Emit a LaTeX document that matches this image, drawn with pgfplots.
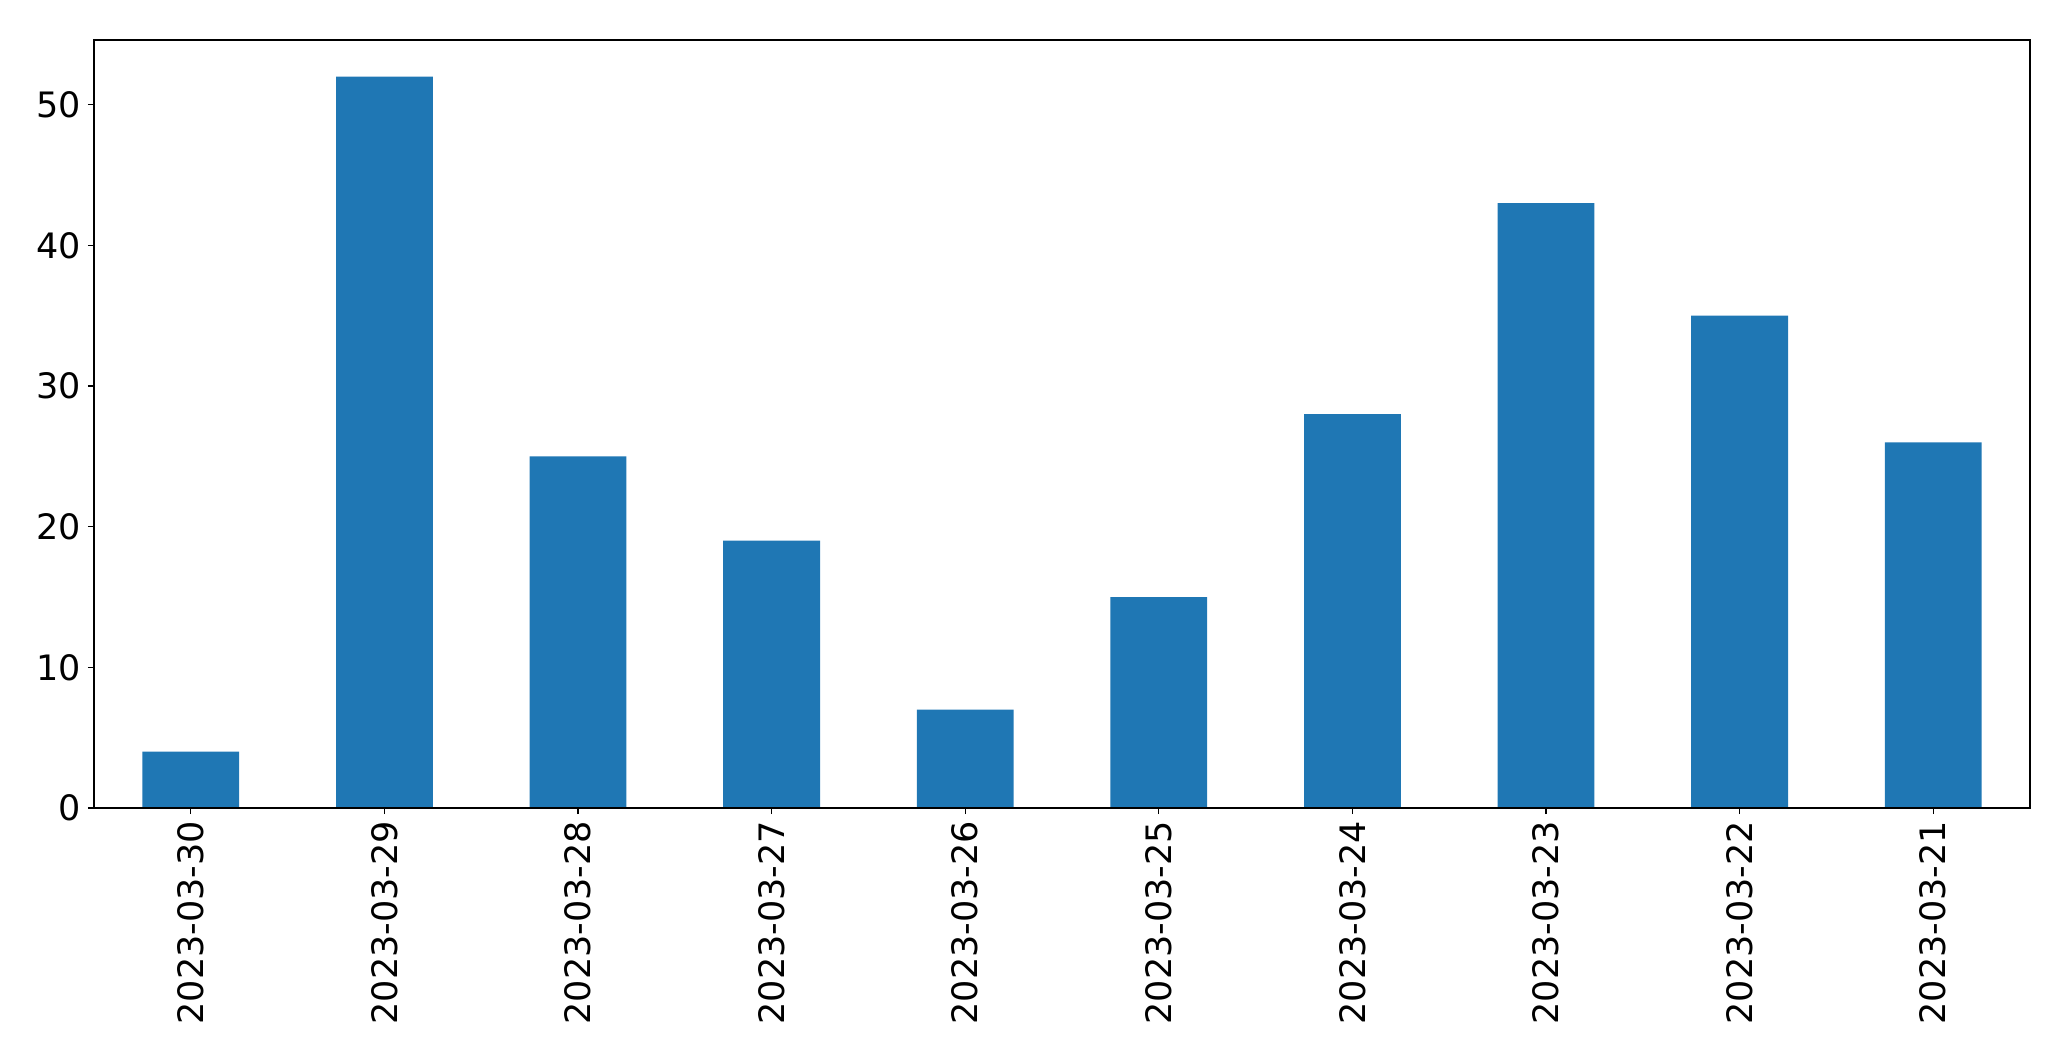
\documentclass[border=0pt]{standalone}
\usepackage{pgfplots}
\pgfplotsset{compat=1.18}
\usepackage{fontspec}
\setmainfont{DejaVu Sans}
\definecolor{mplblue}{HTML}{1F77B4}
\begin{document}
\begin{tikzpicture}
\begin{axis}[
  scale only axis,
  width=968pt, height=384pt,
  xmin=-0.5, xmax=9.5,
  ymin=0, ymax=54.6,
  xtick={0,...,9},
  xticklabels={2023-03-30,2023-03-29,2023-03-28,2023-03-27,2023-03-26,2023-03-25,2023-03-24,2023-03-23,2023-03-22,2023-03-21},
  x tick label style={rotate=90, anchor=east, font=\fontsize{17.5}{20}\selectfont},
  y tick label style={font=\fontsize{17.5}{20}\selectfont},
  ytick={0,10,20,30,40,50},
  /pgf/number format/assume math mode=true,
  tick align=outside,
  major tick length=3pt,
  xtick pos=bottom, ytick pos=left,
  axis line style={line width=0.6pt},
  tick style={line width=0.6pt, black},
  axis on top,
]
\addplot[ybar, bar width=0.5, bar shift=0pt, fill=mplblue, draw=none] coordinates {
(0,4) (1,52) (2,25) (3,19) (4,7) (5,15) (6,28) (7,43) (8,35) (9,26)};
\end{axis}
\path ([xshift=-47pt,yshift=-126pt]current axis.south west) rectangle ([xshift=20.5pt,yshift=20pt]current axis.north east);
\end{tikzpicture}
\end{document}
